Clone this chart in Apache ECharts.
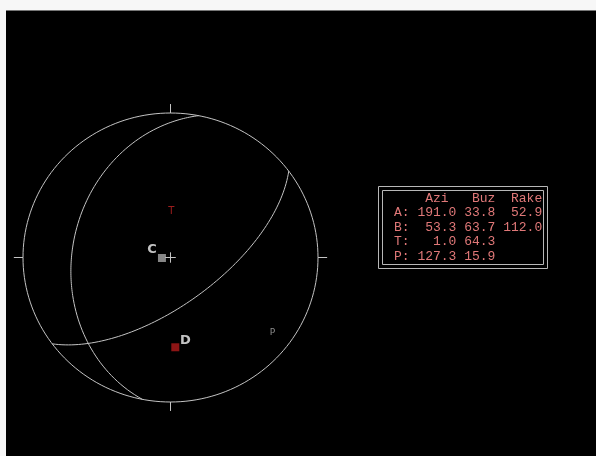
<!DOCTYPE html>
<html>
<head>
<meta charset="utf-8">
<script src="https://cdn.jsdelivr.net/npm/echarts@6/dist/echarts.min.js"></script>
<style>
  html, body { margin: 0; padding: 0; background: #f7f7f7; }
  #main { position: absolute; left: 6px; top: 10px; width: 590px; height: 446px; background: #000; border-top: 1px solid #777; box-sizing: border-box; }
</style>
</head>
<body>
<div id="main"></div>
<script>
// nodal planes: strike (Azi), dip (Buz), rake
const planeNames = ['A', 'B']
const planeStrike = [191.0, 53.3]
const planeDip = [33.8, 63.7]
const planeRake = [52.9, 112.0]
// axes: trend, plunge
const axisNames = ['T', 'P']
const axisTrend = [1.0, 127.3]
const axisPlunge = [64.3, 15.9]
// extra points
const pointNames = ['C', 'D']
const pointTrend = [266.5, 177.0]
const pointPlunge = [85.3, 37.8]

const rad = Math.PI / 180

// Schmidt (equal area) projection of a line, lower hemisphere
function project(trend, plunge) {
  let r = Math.SQRT2 * Math.sin((90 - plunge) / 2 * rad)
  return [r * Math.sin(trend * rad), r * Math.cos(trend * rad)]
}

// great circle of a plane
function greatCircle(strike, dip) {
  let pts = []
  let s = strike * rad, d = dip * rad
  let sv = [Math.sin(s), Math.cos(s), 0]
  let dd = s + Math.PI / 2
  let dv = [Math.cos(d) * Math.sin(dd), Math.cos(d) * Math.cos(dd), Math.sin(d)]
  for (let t = 0; t <= 180; t += 1) {
    let c = Math.cos(t * rad), sn = Math.sin(t * rad)
    let e = c * sv[0] + sn * dv[0]
    let n = c * sv[1] + sn * dv[1]
    let z = c * sv[2] + sn * dv[2]
    let plunge = Math.asin(Math.min(1, Math.max(-1, z))) / rad
    let trend = Math.atan2(e, n) / rad
    pts.push(project(trend, plunge))
  }
  return pts
}

const lineColor = '#c4c4c4'
function seg(data) {
  return { type: 'line', data: data, showSymbol: false, clip: false, silent: true,
    lineStyle: { color: lineColor, width: 1 } }
}

let outline = []
for (let a = 0; a <= 360; a += 2) outline.push(project(a, 0))
let series = [seg(outline)]

// compass ticks and center cross
let tickLen = 0.062
;[0, 90, 180, 270].forEach(a => {
  let p0 = project(a, 0)
  let x0 = Math.round(p0[0] * 1e6) / 1e6, y0 = Math.round(p0[1] * 1e6) / 1e6
  series.push(seg([[x0, y0], [x0 * (1 + tickLen), y0 * (1 + tickLen)]]))
})
let cr = 0.036
series.push(seg([[-cr, 0], [cr, 0]]))
series.push(seg([[0, -cr], [0, cr]]))

planeNames.forEach((n, i) => {
  let s = seg(greatCircle(planeStrike[i], planeDip[i]))
  s.name = n
  series.push(s)
})

// T and P axis letters
const axisColors = ['#c42424', '#b0b0b0']
const axisSizes = [10, 9]
series.push({
  type: 'scatter', symbolSize: 0, silent: true, itemStyle: { color: 'rgba(0,0,0,0)' },
  data: axisNames.map((n, i) => ({
    value: project(axisTrend[i], axisPlunge[i]),
    label: { show: true, formatter: n, position: 'top', distance: 0, offset: [i ? 2 : 0, i ? 5 : 4],
      color: axisColors[i], fontSize: axisSizes[i], fontFamily: 'DejaVu Sans' }
  }))
})

// C and D points
const pointColors = ['#a8a8a8', '#b01a1a']
const labelOffsets = [[-10, -8], [10, -7]]
series.push({
  type: 'scatter', symbol: 'rect', symbolSize: 8, silent: true,
  data: pointNames.map((n, i) => ({
    value: project(pointTrend[i], pointPlunge[i]),
    itemStyle: { color: pointColors[i] },
    label: { show: true, formatter: n, position: 'inside', offset: labelOffsets[i],
      color: '#f4f4f4', fontSize: 13, fontWeight: 'bold', fontFamily: 'DejaVu Sans' }
  }))
})

// table text
function pad(v, w) {
  let s = v == null ? '' : v.toFixed(1)
  while (s.length < w) s = ' ' + s
  return s
}
let tableLines = ['    Azi   Buz  Rake']
planeNames.forEach((n, i) => {
  tableLines.push(n + ': ' + pad(planeStrike[i], 5) + ' ' + pad(planeDip[i], 4) + ' ' + pad(planeRake[i], 5))
})
axisNames.forEach((n, i) => {
  tableLines.push(n + ': ' + pad(axisTrend[i], 5) + ' ' + pad(axisPlunge[i], 4))
})

const rowY = [188, 202, 216.5, 231, 245.5]
let graphic = [
  { type: 'rect', shape: { x: 372.5, y: 175.5, width: 169, height: 82 },
    style: { fill: 'none', stroke: '#b8b8b8', lineWidth: 1 } },
  { type: 'rect', shape: { x: 376.5, y: 179.5, width: 161, height: 74 },
    style: { fill: 'none', stroke: '#b8b8b8', lineWidth: 1 } }
]
tableLines.forEach((t, i) => {
  graphic.push({ type: 'text', x: 388, y: rowY[i],
    style: { text: t, fill: '#e07878', font: '13px "Liberation Mono"', textVerticalAlign: 'middle' } })
})

const chart = echarts.init(document.getElementById('main'), null, { renderer: 'canvas' })
chart.setOption({
  backgroundColor: '#000',
  animation: false,
  grid: { left: 2.25, top: 87.55, width: 324.5, height: 317.9 },
  xAxis: { type: 'value', min: -1.1, max: 1.1, show: false },
  yAxis: { type: 'value', min: -1.1, max: 1.1, show: false },
  series: series,
  graphic: graphic
})
</script>
</body>
</html>
